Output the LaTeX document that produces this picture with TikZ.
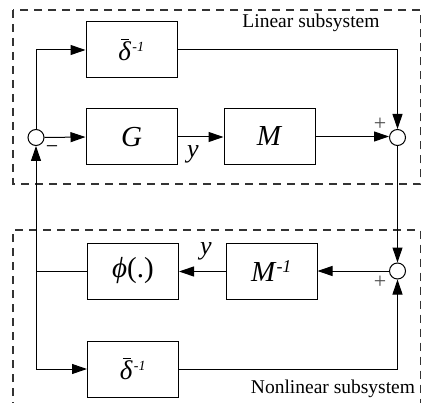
\documentclass[tikz,border=0pt]{standalone}
\usepackage{fontspec}
\setmainfont{Liberation Serif}
\usetikzlibrary{arrows.meta}
\tikzset{
  blk/.style={draw, line width=1pt, minimum width=91pt, minimum height=56pt, inner sep=0pt, font=\fontsize{29}{30}\selectfont},
  sumj/.style={draw, circle, line width=1pt, minimum size=16pt, inner sep=0pt, fill=white},
  sig/.style={line width=1pt, -{Triangle[length=15pt,width=10pt]}},
  wire/.style={line width=1pt},
  region/.style={dashed, dash pattern=on 8pt off 6pt, line width=1.2pt, draw=black!80},
  lbl/.style={font=\fontsize{19.5}{20}\selectfont},
  sgn/.style={font=\fontsize{22}{22}\selectfont, text=black!70},
}
\newcommand{\dbar}{\rlap{\kern3pt\rule[21pt]{8pt}{0.8pt}}\textit{δ}\textsuperscript{\kern1pt\fontsize{14}{14}\selectfont\itshape -1}}
\begin{document}
\begin{tikzpicture}[x=1pt,y=-1pt]
\useasboundingbox (0,0) rectangle (422,403);
% regions
\draw[region] (13,10) rectangle (420.5,184);
\draw[region] (13,410) -- (13,230) -- (420.5,230) -- (420.5,410);
\node[lbl, anchor=base] (lt) at (311,28) {Linear subsystem};
\node[lbl, anchor=base] (nt) at (333,393) {Nonlinear subsystem};
% blocks
\node[blk, font=\fontsize{27}{28}\selectfont] (d1) at (131.5,50) {\dbar};
\node[blk] (G) at (131.5,137) {\textit{G}};
\node[blk] (M) at (269.5,136.5) {\textit{M}};
\node[blk] (phi) at (133,271) {\textit{ϕ}(.)};
\node[blk] (Mi) at (271.5,271.5) {\textit{M}\textsuperscript{\fontsize{18}{18}\selectfont\itshape -1}};
\node[blk, font=\fontsize{27}{28}\selectfont] (d2) at (133,369) {\dbar};
% summing junctions
\node[sumj] (s0) at (36,137.5) {};
\node[sumj] (s1) at (397.5,137.5) {};
\node[sumj] (s2) at (397.5,271) {};
% helper coordinates
\coordinate (c0) at (36,50);
\coordinate (c1) at (397.5,50);
\coordinate (c2) at (36,271);
\coordinate (c3) at (36,369);
\coordinate (c4) at (397.5,369);
% connections
\draw[sig] (s0.north) -- (c0) -- (d1.west);
\draw[sig] (d1.east) -- (c1) -- (s1.north);
\draw[sig] (s0.east) -- (G.west);
\draw[sig] (G.east) -- (G.east -| M.west);
\draw[sig] (M.east) -- (M.east -| s1.west);
\draw[sig] (s1.south) -- (s2.north);
\draw[sig] (s2.west) -- (s2.west -| Mi.east);
\draw[sig] (Mi.west) -- (Mi.west -| phi.east);
\draw[wire] (phi.west) -- (c2);
\draw[sig] (c3) -- (s0.south);
\draw[sig] (c3) -- (d2.west);
\draw[sig] (d2.east) -- (c4) -- (s2.south);
% labels
\node[font=\fontsize{22}{22}\selectfont] (m0) at (52,150) {−};
\node[font=\fontsize{26}{26}\selectfont\itshape, anchor=base] (y1) at (193,158) {y};
\node[font=\fontsize{26}{26}\selectfont\itshape, anchor=base] (y2) at (206,254) {y};
\node[sgn] (p1) at (380,124) {+};
\node[sgn] (p2) at (380,282) {+};
\end{tikzpicture}
\end{document}
